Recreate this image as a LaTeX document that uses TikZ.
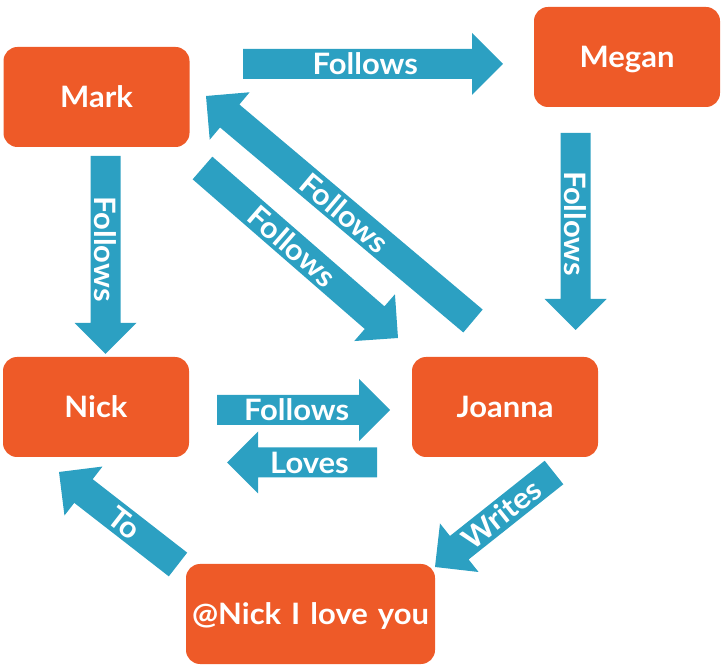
\documentclass[tikz,border=0pt]{standalone}
\usepackage{fontspec}
\setmainfont{Lato}[FakeStretch=1.05]
\usetikzlibrary{calc}
\definecolor{boxorange}{RGB}{238,90,40}
\definecolor{arrowblue}{RGB}{44,160,194}
\tikzset{
  person/.style={rectangle, fill=boxorange, rounded corners=14pt, minimum width=186pt, minimum height=100pt, inner sep=0pt, text depth=0pt, text=white, font=\fontsize{29.5}{30}\selectfont\bfseries},
  arrowfill/.style={fill=arrowblue},
  arrowlabel/.style={text=white, inner sep=0pt, text depth=0pt, font=\fontsize{29.5}{30}\selectfont\bfseries}
}
\newcommand\blockarrow[2]{%
  \coordinate (hb) at ($(#2)!31pt!(#1)$);
  \fill[arrowfill] ($(#1)!15pt!90:(#2)$) -- ($(hb)!15pt!90:(#2)$) -- ($(hb)!31pt!90:(#2)$) -- (#2) -- ($(hb)!31pt!-90:(#2)$) -- ($(hb)!15pt!-90:(#2)$) -- ($(#1)!15pt!-90:(#2)$) -- cycle;}
\begin{document}
\begin{tikzpicture}[x=1pt,y=-1pt]
\useasboundingbox (0,0) rectangle (724,668);
\node[person] (mark) at (96.5,97) {Mark};
\node[person] (megan) at (627,57) {Megan};
\node[person] (nick) at (96,407) {Nick};
\node[person] (joanna) at (505,407) {Joanna};
\node[person, minimum width=249pt] (tweet) at (310.5,614) {@Nick\hspace{10pt}I\hspace{10pt}love\hspace{10pt}you};
% arrow end points
\coordinate (m2gA) at (243,64);    \coordinate (m2gB) at (503,64);
\coordinate (g2jA) at (575.5,133); \coordinate (g2jB) at (575.5,330);
\coordinate (m2nA) at (105.5,156); \coordinate (m2nB) at (105.5,354);
\coordinate (j2mA) at (473,321);   \coordinate (j2mB) at (206,96);
\coordinate (m2jA) at (202.5,168); \coordinate (m2jB) at (398,338);
\coordinate (n2jA) at (217,410);   \coordinate (n2jB) at (390,410);
\coordinate (j2nA) at (377,462.5); \coordinate (j2nB) at (227,462.5);
\coordinate (t2nA) at (178,564.5); \coordinate (t2nB) at (59,472);
\coordinate (j2tA) at (554,472.5); \coordinate (j2tB) at (435,567);
\blockarrow{m2gA}{m2gB}
\blockarrow{g2jA}{g2jB}
\blockarrow{m2nA}{m2nB}
\blockarrow{j2mA}{j2mB}
\blockarrow{m2jA}{m2jB}
\blockarrow{n2jA}{n2jB}
\blockarrow{j2nA}{j2nB}
\blockarrow{t2nA}{t2nB}
\blockarrow{j2tA}{j2tB}
\path (m2gA) -- (m2gB) node[arrowlabel, pos=0.47] {Follows};
\path (g2jA) -- (g2jB) node[arrowlabel, pos=0.46, rotate=-90] {Follows};
\path (m2nA) -- (m2nB) node[arrowlabel, pos=0.47, rotate=-90] {Follows};
\path (j2mA) -- (j2mB) node[arrowlabel, pos=0.48, sloped] {Follows};
\path (m2jA) -- (m2jB) node[arrowlabel, pos=0.46, sloped] {Follows};
\path (n2jA) -- (n2jB) node[arrowlabel, pos=0.46] {Follows};
\path (j2nA) -- (j2nB) node[arrowlabel, pos=0.45] {Loves};
\path (t2nA) -- (t2nB) node[arrowlabel, pos=0.45, sloped] {To};
\path (j2tA) -- (j2tB) node[arrowlabel, pos=0.44, sloped] {Writes};
\end{tikzpicture}
\end{document}
